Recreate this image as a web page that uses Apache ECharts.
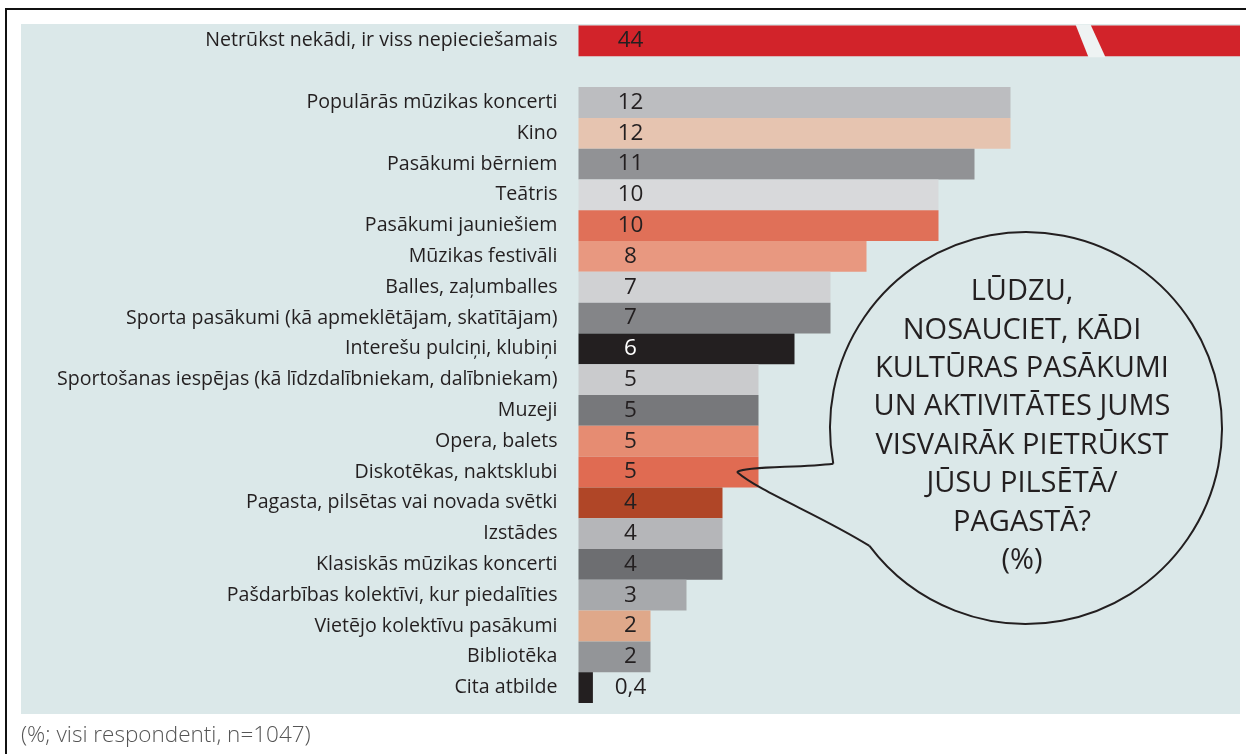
<!DOCTYPE html>
<html>
<head>
<meta charset="utf-8">
<script src="https://cdn.jsdelivr.net/npm/echarts@6/dist/echarts.min.js"></script>
<style>
html,body{margin:0;padding:0;background:#fff;}
#chart{width:1246px;height:754px;}
</style>
</head>
<body>
<div id="chart"></div>
<script>
var categories = [
  'Netrūkst nekādi, ir viss nepieciešamais',
  '',
  'Populārās mūzikas koncerti',
  'Kino',
  'Pasākumi bērniem',
  'Teātris',
  'Pasākumi jauniešiem',
  'Mūzikas festivāli',
  'Balles, zaļumballes',
  'Sporta pasākumi (kā apmeklētājam, skatītājam)',
  'Interešu pulciņi, klubiņi',
  'Sportošanas iespējas (kā līdzdalībniekam, dalībniekam)',
  'Muzeji',
  'Opera, balets',
  'Diskotēkas, naktsklubi',
  'Pagasta, pilsētas vai novada svētki',
  'Izstādes',
  'Klasiskās mūzikas koncerti',
  'Pašdarbības kolektīvi, kur piedalīties',
  'Vietējo kolektīvu pasākumi',
  'Bibliotēka',
  'Cita atbilde'
];
var values = [44, null, 12, 12, 11, 10, 10, 8, 7, 7, 6, 5, 5, 5, 5, 4, 4, 4, 3, 2, 2, 0.4];
var barColors = ['#d2232a', 'transparent', '#bcbdc0', '#e6c4b0', '#919295', '#d8d9db', '#e07058',
  '#e89880', '#d0d1d3', '#848588', '#231f20', '#cacbcd', '#77787b', '#e68c72', '#e06b52',
  '#b04627', '#b5b6b9', '#6d6e71', '#a7a9ac', '#dfa88a', '#939598', '#231f20'];
var labelColors = values.map(function (v, i) { return i === 10 ? '#ffffff' : '#231f20'; });
var questionLines = ['LŪDZU,', 'NOSAUCIET, KĀDI', 'KULTŪRAS PASĀKUMI', 'UN AKTIVITĀTES JUMS',
  'VISVAIRĀK PIETRŪKST', 'JŪSU PILSĒTĀ/', 'PAGASTĀ?', '(%)'];
var footnote = '(%; visi respondenti, n=1047)';

var FONT = '"Open Sans", "Noto Sans", sans-serif';
var PANEL = '#dbe8e9';

var chart = echarts.init(document.getElementById('chart'), null, {renderer: 'canvas'});

var seriesData = values.map(function (v, i) {
  return {
    value: v === null ? '-' : v,
    itemStyle: {color: barColors[i]},
    label: {color: labelColors[i]}
  };
});

var option = {
  animation: false,
  backgroundColor: '#ffffff',
  grid: {left: 578.5, right: 6, top: 25.5, bottom: 51, containLabel: false},
  xAxis: {
    type: 'value', min: 0, max: 18.375,
    show: false
  },
  yAxis: {
    type: 'category', inverse: true, data: categories,
    axisLine: {show: false}, axisTick: {show: false}, splitLine: {show: false},
    axisLabel: {
      margin: 21, fontFamily: FONT, fontSize: 19.6, color: '#231f20', interval: 0
    }
  },
  series: [{
    type: 'bar',
    data: seriesData,
    barCategoryGap: '0%',
    clip: true,
    z: 2,
    label: {
      show: true,
      position: [52, '50%'],
      align: 'center',
      verticalAlign: 'middle',
      fontFamily: FONT,
      fontSize: 22.5,
      formatter: function (p) { return String(p.value).replace('.', ','); }
    }
  }],
  graphic: []
};
chart.setOption(option);

// decorations computed from the chart's own scales
var yTop = chart.convertToPixel({yAxisIndex: 0}, categories[0]);
var half = 15.4;
var xBreak = chart.convertToPixel({xAxisIndex: 0}, 14.0);
var cx = 1026, cy = 428, r = 196;
var aAng = 169.5 * Math.PI / 180, bAng = 143 * Math.PI / 180;
var A = [cx + r * Math.cos(aAng), cy + r * Math.sin(aAng)];
var B = [cx + r * Math.cos(bAng), cy + r * Math.sin(bAng)];
var tip = [737, 472];
var g = [
  {type: 'rect', z: -10, shape: {x: 21, y: 24, width: 1219, height: 690}, style: {fill: PANEL}},
  {type: 'polyline', z: 200, shape: {points: [[6, 754], [6, 9], [1246, 9]]},
    style: {stroke: '#111', lineWidth: 2, fill: null}},
  {type: 'polygon', z: 100,
    shape: {points: [[xBreak - 7, yTop - half - 1], [xBreak + 8, yTop - half - 1],
      [xBreak + 23, yTop + half + 1], [xBreak + 6, yTop + half + 1]]},
    style: {fill: '#eef3f3'}},
  {type: 'arc', z: 100,
    shape: {cx: cx, cy: cy, r: r, startAngle: aAng, endAngle: bAng + Math.PI * 2, clockwise: true},
    style: {fill: null, stroke: '#231f20', lineWidth: 2}},
  {type: 'bezierCurve', z: 100,
    shape: {x1: A[0], y1: A[1], cpx1: 800, cpy1: 468, cpx2: 745, cpy2: 466, x2: tip[0], y2: tip[1]},
    style: {fill: null, stroke: '#231f20', lineWidth: 2}},
  {type: 'bezierCurve', z: 100,
    shape: {x1: tip[0], y1: tip[1], cpx1: 760, cpy1: 492, cpx2: 820, cpy2: 515, x2: B[0], y2: B[1]},
    style: {fill: null, stroke: '#231f20', lineWidth: 2}},
  {type: 'text', z: 110, x: 21, y: 736,
    style: {text: footnote, fontFamily: FONT, fontSize: 22.5, fill: '#555555', verticalAlign: 'middle', fontWeight: 300}}
];
questionLines.forEach(function (t, i) {
  g.push({type: 'text', z: 110, x: 1022, y: 292 + i * 38.4,
    style: {text: t, fontFamily: FONT, fontSize: 29, fill: '#231f20', align: 'center', verticalAlign: 'middle'}});
});
chart.setOption({graphic: g});
</script>
</body>
</html>
